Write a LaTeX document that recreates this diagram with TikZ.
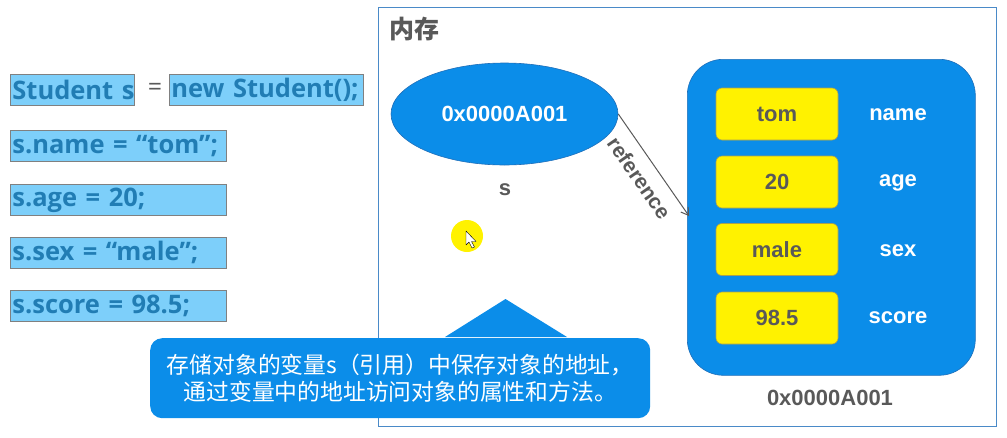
\documentclass[tikz,border=0pt]{standalone}
\usepackage{fontspec}
\setmainfont{Liberation Sans}
\newfontfamily\codefont[WordSpace=1.5]{Open Sans}
\newfontfamily\cjk{Noto Sans CJK SC}
\usetikzlibrary{arrows.meta,shapes.geometric}
\definecolor{memblue}{RGB}{11,141,233}
\definecolor{edgeblue}{RGB}{30,110,185}
\definecolor{framecol}{RGB}{74,138,200}
\definecolor{codefill}{RGB}{125,207,250}
\definecolor{codetext}{RGB}{33,125,180}
\definecolor{codeborder}{RGB}{128,128,128}
\definecolor{graytext}{RGB}{89,89,89}
\definecolor{valfill}{RGB}{255,242,0}
\definecolor{valborder}{RGB}{170,160,80}
\begin{document}
\begin{tikzpicture}[x=1pt,y=-1pt,
  codebox/.style={draw=codeborder, line width=0.8pt, fill=codefill, text=codetext,
    font=\codefont\bfseries\fontsize{25.5}{25.5}\selectfont, inner xsep=2pt, inner ysep=0pt,
    minimum height=31pt, anchor=north west, align=left},
  valbox/.style={fill=valfill, draw=valborder, line width=0.6pt, rounded corners=6pt,
    minimum width=122pt, minimum height=52pt, inner sep=0pt, text=graytext,
    font=\bfseries\fontsize{22}{22}\selectfont},
  fieldlabel/.style={text=white, font=\bfseries\fontsize{22}{22}\selectfont},
  graylabel/.style={text=graytext, font=\bfseries\fontsize{22}{22}\selectfont}
]
\useasboundingbox (0,0) rectangle (1007,437);

% code lines
\node[codebox, text width=120pt] (c1) at (10,74) {\mbox{Student s}};
\node[text=graytext, font=\codefont\fontsize{25}{25}\selectfont] (eq) at (155,89) {=};
\node[codebox, text width=190pt] (c2) at (169,74) {\mbox{new Student();}};
\node[codebox, text width=212pt] (c3) at (10,130) {\mbox{s.name = “tom”;}};
\node[codebox, text width=212pt] (c4) at (10,184) {\mbox{s.age = 20;}};
\node[codebox, text width=212pt] (c5) at (10,237) {\mbox{s.sex = “male”;}};
\node[codebox, text width=212pt] (c6) at (10,290) {\mbox{s.score = 98.5;}};

% memory frame
\node[draw=framecol, line width=1pt, minimum width=618pt, minimum height=419pt,
  anchor=north west, inner sep=0pt] (mem) at (378,7) {};
\node[text=graytext, font=\cjk\bfseries\fontsize{25}{25}\selectfont] (memtitle) at (414,29) {内存};

% reference variable
\node[ellipse, fill=memblue, draw=edgeblue, line width=0.6pt, minimum width=227pt,
  minimum height=102pt, inner sep=0pt, text=white,
  font=\bfseries\fontsize{22}{22}\selectfont] (ell) at (504.5,114) {0x0000A001};
\node[graylabel] (slabel) at (505,190) {s};

% object
\node[rounded corners=36pt, fill=memblue, draw=edgeblue, line width=0.6pt,
  minimum width=288pt, minimum height=316pt, anchor=north west, inner sep=0pt] (obj) at (687,59) {};
\node[valbox] (v1) at (777,114) {tom};
\node[valbox] (v2) at (777,182) {20};
\node[valbox] (v3) at (777,249.5) {male};
\node[valbox] (v4) at (777,318) {98.5};
\node[fieldlabel] (f1) at (898,115) {name};
\node[fieldlabel] (f2) at (898,183) {age};
\node[fieldlabel] (f3) at (898,251) {sex};
\node[fieldlabel] (f4) at (898,318) {score};
\node[graylabel] (addr) at (830,398) {0x0000A001};

% reference arrow
\coordinate (tip) at (689,216);
\draw[graytext, line width=1pt, -{Straight Barb[length=7pt,width=9pt]}] (ell.east) -- (tip)
  node[pos=0.52, sloped, below=10pt, inner sep=1pt, text=graytext, font=\bfseries\fontsize{21}{21}\selectfont] (reflabel) {reference};

% mouse highlight
\fill[valfill] (467,236) circle (16);
\draw[fill=white, draw=black, line width=0.4pt, line join=round]
  (466,231) -- (466,245) -- (469,242) -- (472,248) -- (474.5,247) -- (471.5,241.5) -- (476,241.5) -- cycle;

% callout
\node[fill=memblue, rounded corners=12pt, minimum width=500pt, minimum height=80pt,
  anchor=north west, inner sep=0pt, text=white, align=center,
  font=\cjk\fontsize{22.8}{27}\selectfont] (callout) at (150,338)
  {存储对象的变量s（引用）中保存对象的地址，\\通过变量中的地址访问对象的属性和方法。};
\fill[memblue] ([xshift=295pt,yshift=1pt]callout.north west) -- ([xshift=355.5pt,yshift=39pt]callout.north west)
  -- ([xshift=417pt,yshift=1pt]callout.north west) -- cycle;
\end{tikzpicture}
\end{document}
